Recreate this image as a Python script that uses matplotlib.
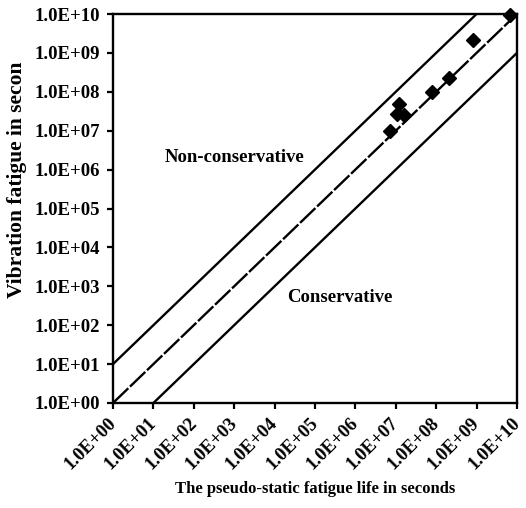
import math
import matplotlib
matplotlib.use("Agg")
import matplotlib.pyplot as plt
import matplotlib.transforms as mtransforms
from matplotlib.ticker import FixedLocator, FuncFormatter, NullLocator

plt.rcParams['font.family'] = ['Liberation Serif', 'DejaVu Serif']
plt.rcParams['font.weight'] = 'bold'
plt.rcParams['axes.labelweight'] = 'bold'

# data (pseudo-static life, vibration life) in seconds
static_life = [7.2e6, 1.1e7, 1.2e7, 1.6e7, 7.8e7, 2.1e8, 8.0e8, 6.8e9]
vib_life = [9.8e6, 2.7e7, 4.9e7, 2.5e7, 1.0e8, 2.2e8, 2.2e9, 9.4e9]

decades = list(range(0, 11))
factor_lines = [10.0, 1.0, 0.1]

fig = plt.figure(figsize=(5.26, 5.08), dpi=100)
ax = fig.add_axes([0.2148, 0.2067, 0.768, 0.7657])

xs = [10.0 ** d for d in decades]
# upper bound (x10), 1:1 line, lower bound (x1/10)
ax.plot(xs, [factor_lines[0] * v for v in xs], color='black', lw=1.7)
ax.plot(xs, [factor_lines[1] * v for v in xs], color='black', lw=1.7, dashes=(9, 1))
ax.plot(xs, [factor_lines[2] * v for v in xs], color='black', lw=1.7)

ax.plot(static_life, vib_life, 'D', color='black', ms=7.5, clip_on=False)

ax.set_xscale('log')
ax.set_yscale('log')
ax.set_xlim(1, 1e10)
ax.set_ylim(1, 1e10)

fmt = FuncFormatter(lambda v, p: "1.0E+%02d" % round(math.log10(v)))
for axis in (ax.xaxis, ax.yaxis):
    axis.set_major_locator(FixedLocator(xs))
    axis.set_minor_locator(NullLocator())
    axis.set_major_formatter(fmt)

ax.tick_params(direction='out', length=4.5, width=1.6, labelsize=13.5, top=False, right=False)
ax.tick_params(axis='y', pad=5)
shift = mtransforms.ScaledTranslation(-4 / 72, 0, fig.dpi_scale_trans)
for lab in ax.get_xticklabels():
    lab.set_rotation(45)
    lab.set_ha('right')
    lab.set_va('top')
    lab.set_rotation_mode('anchor')
    lab.set_transform(lab.get_transform() + shift)

for s in ax.spines.values():
    s.set_linewidth(1.7)

ax.text(1.05e3, 2e6, "Non-conservative", fontsize=13.5, ha='center', va='center')
ax.text(4.2e5, 5.3e2, "Conservative", fontsize=13.5, ha='center', va='center')

ax.set_xlabel("The pseudo-static fatigue life in seconds", fontsize=12, labelpad=6)
ax.set_ylabel("Vibration fatigue in secon", fontsize=15.5)
ax.yaxis.set_label_coords(-0.212, 0.575)

fig.savefig("out.png", dpi=100)
